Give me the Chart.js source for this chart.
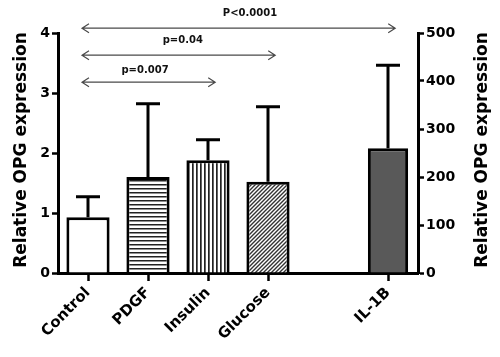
<!DOCTYPE html>
<html><head><meta charset="utf-8">
<script src="https://cdn.jsdelivr.net/npm/chart.js@4"></script>
<style>html,body{margin:0;padding:0;background:#fff}</style>
</head><body>
<canvas id="c" width="500" height="357"></canvas>
<script>
const categories = ['Control','PDGF','Insulin','Glucose','','IL-1B'];
const leftMeans = [0.93, 1.6, 1.88, 1.52, null, null];
const leftSD = [0.34, 1.22, 0.34, 1.25, null, null];
const rightMeans = [null, null, null, null, null, 260];
const rightSD = [null, null, null, null, null, 173];
const leftTicks = [0, 1, 2, 3, 4];
const rightTicks = [0, 100, 200, 300, 400, 500];
const compTargets = [2, 3, 5];
const compLabels = ['p=0.007', 'p=0.04', 'P<0.0001'];
const compLevels = [3.18, 3.63, 4.08];
const compLabelLevels = [3.37, 3.87, 4.32];
const compLabelX = [0.95, 1.58, 2.7];
const axisTitle = 'Relative OPG expression';

const FONT = 'DejaVu Sans';

function makePattern(kind) {
  const s = 4;
  const c = document.createElement('canvas');
  c.width = s; c.height = s;
  const g = c.getContext('2d');
  g.fillStyle = '#fff'; g.fillRect(0, 0, s, s);
  if (kind === 'h') {
    g.fillStyle = '#222'; g.fillRect(0, 0, s, 1.5);
  } else if (kind === 'v') {
    g.fillStyle = '#222'; g.fillRect(0, 0, 1.7, s);
  } else if (kind === 'd') {
    g.lineWidth = 1.4;
    g.strokeStyle = '#333';
    g.beginPath();
    g.moveTo(-1, s + 1); g.lineTo(s + 1, -1);
    g.moveTo(-1, 1); g.lineTo(1, -1);
    g.moveTo(s - 1, s + 1); g.lineTo(s + 1, s - 1);
    g.stroke();
  }
  return g.createPattern(c, 'repeat');
}

const cv = document.getElementById('c');
const fills = ['#ffffff', makePattern('h'), makePattern('v'), makePattern('d'), '#ffffff', '#595959'];

const errorBars = {
  id: 'errorBars',
  afterDatasetsDraw(chart) {
    const c = chart.ctx;
    const sets = [[0, leftMeans, leftSD, 'y'], [1, rightMeans, rightSD, 'y1']];
    c.save();
    c.strokeStyle = '#000';
    c.lineWidth = 3;
    sets.forEach(([di, means, sds, ax]) => {
      const meta = chart.getDatasetMeta(di);
      const sc = chart.scales[ax];
      meta.data.forEach((el, i) => {
        if (means[i] == null || sds[i] == null) return;
        const x = el.x;
        const yb = sc.getPixelForValue(means[i]);
        const yt = sc.getPixelForValue(means[i] + sds[i]);
        c.beginPath();
        c.moveTo(x, yb); c.lineTo(x, yt);
        c.moveTo(x - 12, yt); c.lineTo(x + 12, yt);
        c.stroke();
      });
    });
    c.restore();
  }
};

const annotations = {
  id: 'annotations',
  afterDraw(chart) {
    const c = chart.ctx;
    const xs = chart.scales.x, ys = chart.scales.y;
    c.save();
    c.strokeStyle = '#4a4a4a';
    c.lineWidth = 1.2;
    compTargets.forEach((t, k) => {
      const x0 = xs.getPixelForValue(-0.1);
      const x1 = xs.getPixelForValue(t + 0.12);
      const y = ys.getPixelForValue(compLevels[k]);
      c.beginPath();
      c.moveTo(x0, y); c.lineTo(x1, y);
      c.moveTo(x0 + 7, y - 4.5); c.lineTo(x0, y); c.lineTo(x0 + 7, y + 4.5);
      c.moveTo(x1 - 7, y - 4.5); c.lineTo(x1, y); c.lineTo(x1 - 7, y + 4.5);
      c.stroke();
      c.fillStyle = '#111';
      c.font = 'bold 10px "' + FONT + '"';
      c.textAlign = 'center';
      c.textBaseline = 'middle';
      c.fillText(compLabels[k], xs.getPixelForValue(compLabelX[k]), ys.getPixelForValue(compLabelLevels[k]));
    });
    const ca = chart.chartArea;
    const midY = (ca.top + ca.bottom) / 2 - 3;
    c.fillStyle = '#000';
    c.font = 'bold 17px "' + FONT + '"';
    c.textAlign = 'center';
    c.textBaseline = 'middle';
    [22, 483].forEach(x => {
      c.save();
      c.translate(x, midY);
      c.rotate(-Math.PI / 2);
      c.fillText(axisTitle, 0, 0);
      c.restore();
    });
    c.restore();
  }
};

const tickFont = { family: FONT, weight: 'bold', size: 14 };

new Chart(cv, {
  type: 'bar',
  data: {
    labels: categories,
    datasets: [
      { data: leftMeans, yAxisID: 'y', backgroundColor: fills, borderColor: '#000', borderWidth: 3, grouped: false, barPercentage: 0.72, categoryPercentage: 1.0 },
      { data: rightMeans, yAxisID: 'y1', backgroundColor: fills, borderColor: '#000', borderWidth: 3, grouped: false, barPercentage: 0.67, categoryPercentage: 1.0 }
    ]
  },
  options: {
    responsive: false,
    animation: false,
    devicePixelRatio: 1,
    layout: { padding: { top: 33, left: 0, right: 0, bottom: 0 } },
    plugins: { legend: { display: false }, tooltip: { enabled: false } },
    scales: {
      x: {
        type: 'category',
        offset: true,
        grid: {
          display: true, drawOnChartArea: false, offset: false,
          tickLength: 8, tickWidth: 2.5,
          tickColor: (ctx) => (categories[ctx.index] ? '#000' : 'rgba(0,0,0,0)')
        },
        border: { display: true, color: '#000', width: 3 },
        ticks: { font: { family: FONT, weight: 'bold', size: 15 }, color: '#000', minRotation: 45, maxRotation: 45, padding: 3, autoSkip: false },
        afterFit: (s) => { s.height = 84; }
      },
      y: {
        position: 'left', min: 0, max: 4,
        afterBuildTicks: (s) => { s.ticks = leftTicks.map(v => ({ value: v })); },
        grid: { drawOnChartArea: false, tickLength: 6, tickWidth: 2.5, tickColor: '#000' },
        border: { display: true, color: '#000', width: 3 },
        ticks: { font: tickFont, color: '#000', padding: 2 },
        afterFit: (s) => { s.width = 58; }
      },
      y1: {
        position: 'right', min: 0, max: 500,
        afterBuildTicks: (s) => { s.ticks = rightTicks.map(v => ({ value: v })); },
        grid: { drawOnChartArea: false, tickLength: 6, tickWidth: 2.5, tickColor: '#000' },
        border: { display: true, color: '#000', width: 3 },
        ticks: { font: tickFont, color: '#000', padding: 2 },
        afterFit: (s) => { s.width = 82; }
      }
    }
  },
  plugins: [errorBars, annotations]
});
</script>
</body></html>
